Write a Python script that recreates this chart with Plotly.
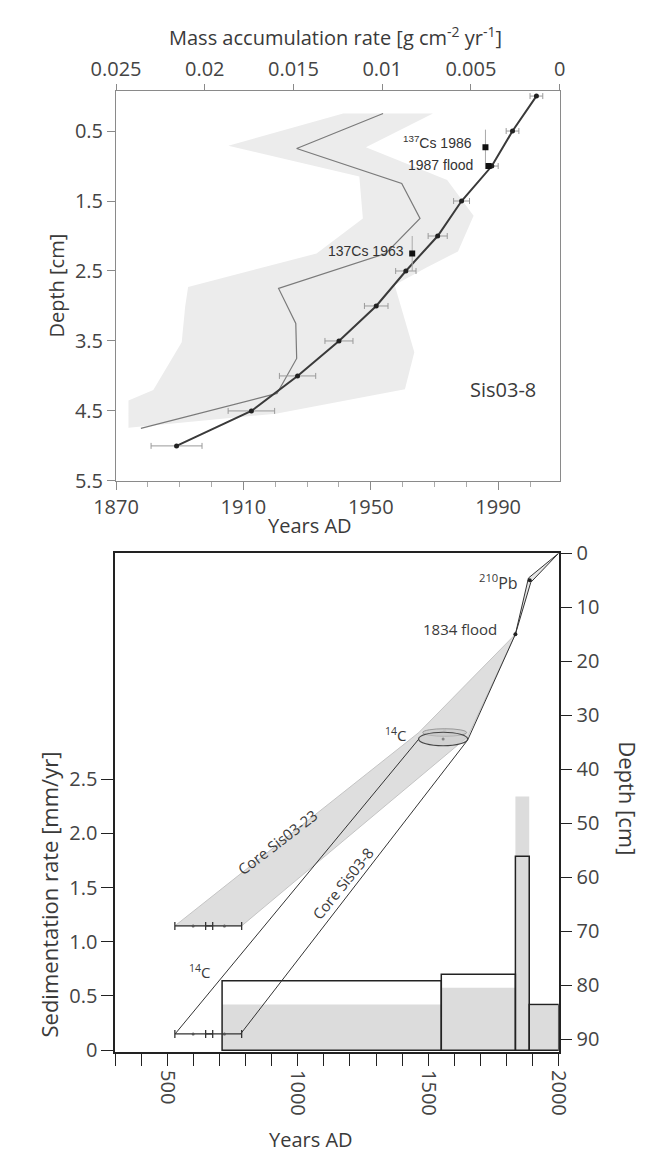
import plotly.graph_objects as go

# ---------------- Top panel: Sis03-8 210Pb age-depth model ----------------
top_depth = [0, 0.5, 1.0, 1.5, 2.0, 2.5, 3.0, 3.5, 4.0, 4.5, 5.0]
top_year = [2002, 1994.5, 1988, 1978.5, 1971, 1961, 1951.7, 1940, 1927, 1912.5, 1889]
top_year_err = [2, 2, 2, 2.5, 3, 3.2, 3.7, 4.4, 5.7, 7.3, 8]

mar_depth = [0.25, 0.75, 1.25, 1.75, 2.25, 2.75, 3.25, 3.75, 4.25, 4.75]
mar_value = [0.00995, 0.01482, 0.0089, 0.00787, 0.0098, 0.01584, 0.01487, 0.01482, 0.01593, 0.0236]

# uncertainty envelope of the mass accumulation rate (outline)
mar_band_value = [0.00714, 0.01092, 0.00634, 0.00485, 0.00573, 0.0075, 0.0093, 0.0088,
                  0.00819, 0.00872, 0.0160, 0.0243, 0.0243, 0.0229, 0.0213, 0.0211,
                  0.02094, 0.0137, 0.01109, 0.01129, 0.01867, 0.0122, 0.00714]
mar_band_depth = [0.25, 0.73, 1.2, 1.71, 2.22, 2.45, 2.7, 3.15,
                  3.66, 4.19, 4.54, 4.74, 4.35, 4.2, 3.52, 3.0,
                  2.73, 2.25, 1.75, 1.15, 0.71, 0.25, 0.25]

cs_year = [1986, 1987, 1963]
cs_depth = [0.73, 1.0, 2.25]
cs_depth_err = [0.25, 0, 0.25]
cs_labels = ["<sup>137</sup>Cs 1986", "1987 flood", "137Cs 1963"]

mar_ticks = [0.025, 0.02, 0.015, 0.01, 0.005, 0]
mar_ticktext = ["0.025", "0.02", "0.015", "0.01", "0.005", "0"]
top_depth_ticks = [0.5, 1.5, 2.5, 3.5, 4.5, 5.5]
top_year_ticks = [1870, 1910, 1950, 1990]

# ---------------- Bottom panel: sedimentation rates and long age model ----------------
sed_edges = [710, 1550, 1834, 1887, 2000]
sed_rate_grey = [0.42, 0.575, 2.34, 0.41]
sed_rate_outline = [0.64, 0.70, 1.79, 0.42]

pb_wedge_year = [2000, 1884, 1834, 1893, 2000]
pb_wedge_depth = [0, 4.6, 15, 5.4, 0]
anchor_year = [1889, 1834]
anchor_depth = [5, 15]

core23_year = [1834, 1464, 529, 785, 1651, 1834]
core23_depth = [15, 33.2, 69, 69, 34.0, 15]
core8_old_year = [1464, 530]
core8_old_depth = [34.4, 89]
core8_young_year = [1834, 1651, 781]
core8_young_depth = [15, 34.6, 89]

c14_outer = [529, 785]
c14_inner = [647, 674]
c14_dots = [599, 719]
c14_depth_core23 = 69
c14_depth_core8 = 89

ell_upper = dict(year=1563, half_year=84, depth=33.2, half_depth=0.7)
ell_lower = dict(year=1557, half_year=94, depth=34.4, half_depth=1.25)

bot_year_ticks = [500, 1000, 1500, 2000]
rate_ticks = [0, 0.5, 1.0, 1.5, 2.0, 2.5]
rate_text = ["0", "0.5", "1.0", "1.5", "2.0", "2.5"]
depth_ticks = list(range(0, 91, 10))

W, H = 660, 1162
GREY_AX = "#8a8a8a"
SANS = "Open Sans"
ARIAL = "Liberation Sans"

fig = go.Figure()

# ---- top traces (MAR on base axis x, years on overlaying axis x2 so it draws on top)
fig.add_trace(go.Scatter(x=mar_band_value, y=mar_band_depth, xaxis="x", yaxis="y",
                         mode="lines", fill="toself", fillcolor="#ececec",
                         line=dict(width=0), hoverinfo="skip"))
fig.add_trace(go.Scatter(x=mar_value, y=mar_depth, xaxis="x", yaxis="y", mode="lines",
                         line=dict(color="#7a7a7a", width=1.2)))
fig.add_trace(go.Scatter(x=top_year, y=top_depth, xaxis="x2", yaxis="y", mode="lines+markers",
                         line=dict(color="#3a3a3a", width=2),
                         marker=dict(size=5, color="#222"),
                         error_x=dict(type="data", array=top_year_err, color="#9a9a9a",
                                      thickness=1, width=3)))
fig.add_trace(go.Scatter(x=cs_year, y=cs_depth, xaxis="x2", yaxis="y", mode="markers",
                         marker=dict(symbol="square", size=6, color="#111"),
                         error_y=dict(type="data", array=cs_depth_err, color="#aaaaaa",
                                      thickness=1, width=0)))

# ---- bottom traces
centers = [(a + b) / 2 for a, b in zip(sed_edges[:-1], sed_edges[1:])]
widths = [b - a for a, b in zip(sed_edges[:-1], sed_edges[1:])]
fig.add_trace(go.Bar(x=centers, y=sed_rate_grey, width=widths, xaxis="x3", yaxis="y3",
                     marker=dict(color="#dcdcdc", line=dict(width=0))))
fig.add_trace(go.Bar(x=centers, y=sed_rate_outline, width=widths, xaxis="x3", yaxis="y3",
                     marker=dict(color="rgba(0,0,0,0)", line=dict(color="#222", width=1.5))))

fig.add_trace(go.Scatter(x=core23_year, y=core23_depth, xaxis="x3", yaxis="y4", mode="lines",
                         fill="toself", fillcolor="#dedede", line=dict(color="#c4c4c4", width=1)))
fig.add_trace(go.Scatter(x=pb_wedge_year, y=pb_wedge_depth, xaxis="x3", yaxis="y4", mode="lines",
                         fill="toself", fillcolor="#e6e6e6", line=dict(color="#333", width=1)))
fig.add_trace(go.Scatter(x=core8_old_year, y=core8_old_depth, xaxis="x3", yaxis="y4", mode="lines",
                         line=dict(color="#333", width=1)))
fig.add_trace(go.Scatter(x=core8_young_year, y=core8_young_depth, xaxis="x3", yaxis="y4", mode="lines",
                         line=dict(color="#333", width=1)))
fig.add_trace(go.Scatter(x=anchor_year, y=anchor_depth, xaxis="x3", yaxis="y4", mode="markers",
                         marker=dict(size=4, color="#222")))

for d in (c14_depth_core23, c14_depth_core8):
    mid = (c14_outer[0] + c14_outer[1]) / 2
    fig.add_trace(go.Scatter(x=[mid], y=[d], xaxis="x3", yaxis="y4", mode="markers",
                             marker=dict(size=1, color="rgba(0,0,0,0)"),
                             error_x=dict(type="data", symmetric=False,
                                          array=[c14_outer[1] - mid], arrayminus=[mid - c14_outer[0]],
                                          color="#333", thickness=1.3, width=4)))
    imid = (c14_inner[0] + c14_inner[1]) / 2
    fig.add_trace(go.Scatter(x=[imid], y=[d], xaxis="x3", yaxis="y4", mode="markers",
                             marker=dict(size=1, color="rgba(0,0,0,0)"),
                             error_x=dict(type="data", array=[imid - c14_inner[0]],
                                          color="#333", thickness=1.3, width=4)))
    fig.add_trace(go.Scatter(x=c14_dots, y=[d] * len(c14_dots), xaxis="x3", yaxis="y4",
                             mode="markers", marker=dict(size=3, color="#555")))

shapes = []
for e, fillc, linec, lw in ((ell_upper, "rgba(205,205,205,0.9)", "#9a9a9a", 1),
                            (ell_lower, "rgba(200,200,200,0.55)", "#444", 1.2)):
    shapes.append(dict(type="circle", xref="x3", yref="y4", layer="above",
                       x0=e["year"] - e["half_year"], x1=e["year"] + e["half_year"],
                       y0=e["depth"] - e["half_depth"], y1=e["depth"] + e["half_depth"],
                       fillcolor=fillc, line=dict(color=linec, width=lw)))
fig.add_trace(go.Scatter(x=[ell_upper["year"], ell_lower["year"]],
                         y=[ell_upper["depth"] - 0.4, ell_lower["depth"]],
                         xaxis="x3", yaxis="y4", mode="markers",
                         marker=dict(size=3, color=["#888", "#333"])))


def py(px):
    return 1 - px / H


axis_common = dict(showgrid=False, zeroline=False, ticks="outside")

fig.update_layout(
    width=W, height=H, margin=dict(l=0, r=0, t=0, b=0),
    paper_bgcolor="white", plot_bgcolor="white", showlegend=False, barmode="overlay",
    font=dict(family=SANS, size=20, color="#3a3a3a"),
    xaxis=dict(domain=[96 / W, 569 / W], anchor="y", side="top", range=[0.025, 0],
               tickvals=mar_ticks, ticktext=mar_ticktext, ticklen=6, tickcolor=GREY_AX,
               showline=True, linecolor=GREY_AX, linewidth=1,
               tickfont=dict(size=20, color="#444"), **axis_common),
    xaxis2=dict(overlaying="x", side="bottom", anchor="y", range=[1870, 2009.3],
                tickvals=top_year_ticks, ticklen=8, tickcolor=GREY_AX,
                showline=True, linecolor=GREY_AX, linewidth=1,
                minor=dict(dtick=10, tick0=1870, ticks="outside", ticklen=5, tickcolor="#aaaaaa"),
                tickfont=dict(size=20, color="#444"), **axis_common),
    yaxis=dict(domain=[py(478), py(79)], anchor="x", range=[5.5, -0.07],
               tickvals=top_depth_ticks, ticktext=[str(v) for v in top_depth_ticks],
               ticklen=8, tickcolor=GREY_AX, showline=True, mirror=True,
               linecolor=GREY_AX, linewidth=1,
               tickfont=dict(size=20, color="#444"), **axis_common),
    xaxis3=dict(domain=[95 / W, 568 / W], anchor="y3", range=[300, 2000],
                tickvals=bot_year_ticks, tickangle=90,
                ticklen=12, tickcolor="#222", tickwidth=1.3,
                minor=dict(dtick=100, tick0=300, ticks="outside", ticklen=12,
                           tickcolor="#222", tickwidth=1.3),
                showline=True, mirror=True, linecolor="#222", linewidth=1.5,
                tickfont=dict(size=20, color="#444"), **axis_common),
    yaxis3=dict(domain=[py(1063), py(552)], anchor="x3", range=[-0.02, 4.586],
                tickvals=rate_ticks, ticktext=rate_text, ticklen=12, tickcolor="#222",
                tickwidth=1.3, showline=True, linecolor="#222", linewidth=1.5,
                tickfont=dict(size=20, color="#444"), **axis_common),
    yaxis4=dict(overlaying="y3", side="right", anchor="x3", range=[92.4, 0],
                tickvals=depth_ticks, ticklen=12, tickcolor="#222", tickwidth=1.3,
                showline=True, linecolor="#222", linewidth=1.5,
                tickfont=dict(size=20, color="#444"), **axis_common),
    shapes=shapes,
)

ann = []
# top panel titles
ann.append(dict(x=0.5, y=py(23), xref="paper", yref="paper",
                text="Mass accumulation rate [g cm<sup>-2</sup> yr<sup>-1</sup>]",
                font=dict(size=20)))
ann.append(dict(x=303 / W, y=py(524), xref="paper", yref="paper", text="Years AD", font=dict(size=20)))
ann.append(dict(x=33 / W, y=py(278), xref="paper", yref="paper", text="Depth [cm]",
                textangle=-90, font=dict(size=20)))
ann.append(dict(x=1991.5, y=4.19, xref="x2", yref="y", text="Sis03-8", font=dict(size=20)))
cs_label_pos = [(1982.3, 0.66), (1982.7, 0.99), (1960.9, 2.22)]
for (lx, ly), t in zip(cs_label_pos, cs_labels):
    ann.append(dict(x=lx, y=ly, xref="x2", yref="y", text=t, xanchor="right",
                    font=dict(family=ARIAL, size=14, color="#333")))
# bottom panel titles
ann.append(dict(x=304 / W, y=py(1152), xref="paper", yref="paper", text="Years AD", font=dict(size=20)))
ann.append(dict(x=25 / W, y=py(901), xref="paper", yref="paper", text="Sedimentation rate [mm/yr]",
                textangle=-90, font=dict(size=22)))
ann.append(dict(x=642 / W, y=py(803), xref="paper", yref="paper", text="Depth [cm]",
                textangle=90, font=dict(size=22)))
ann.append(dict(x=1770, y=5.4, xref="x3", yref="y4", text="<sup>210</sup>Pb", font=dict(size=16)))
ann.append(dict(x=1773, y=14.1, xref="x3", yref="y4", text="1834 flood", xanchor="right",
                font=dict(size=15)))
ann.append(dict(x=1375, y=33.6, xref="x3", yref="y4", text="<sup>14</sup>C", font=dict(size=15)))
ann.append(dict(x=623, y=77.4, xref="x3", yref="y4", text="<sup>14</sup>C", font=dict(size=15)))
ann.append(dict(x=922, y=53.5, xref="x3", yref="y4", text="Core Sis03-23", textangle=-37.5,
                font=dict(size=15)))
ann.append(dict(x=1173, y=61, xref="x3", yref="y4", text="Core Sis03-8", textangle=-51,
                font=dict(size=15)))
for a in ann:
    a["showarrow"] = False
    a["yanchor"] = "middle"
    a.setdefault("xanchor", "center")
fig.update_layout(annotations=ann)

fig.write_html("out.html")
